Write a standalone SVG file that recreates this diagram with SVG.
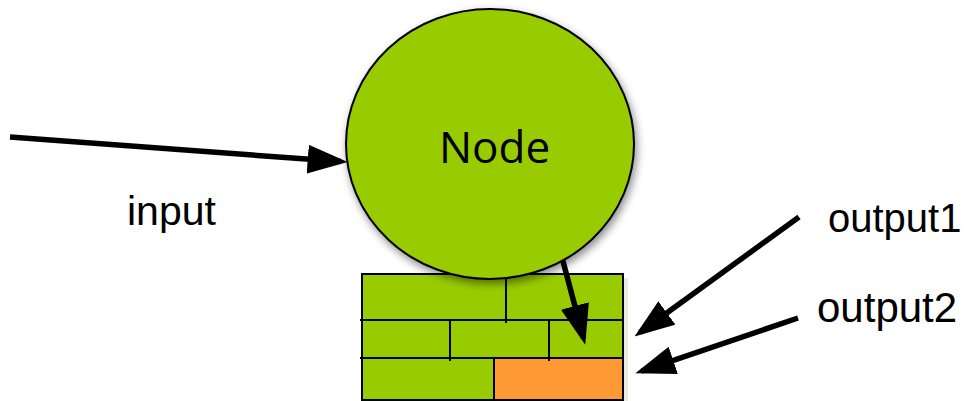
<svg xmlns="http://www.w3.org/2000/svg" width="967" height="401" viewBox="0 0 967 401">
  <style>
    .brick { fill: #99CC00; stroke: none; }
    .mortar { stroke: #000; stroke-width: 2; fill: none; }
    .arrow { stroke: #000; stroke-width: 5.5; fill: none; marker-end: url(#head); }
    .label { font-family: "Liberation Sans", Arial, sans-serif; fill: #000; }
  </style>
  <defs>
    <marker id="head" markerUnits="userSpaceOnUse" markerWidth="40" markerHeight="30"
            viewBox="0 0 36 26" refX="30" refY="13" orient="auto">
      <path d="M0,0 L36,13 L0,26 z" fill="#000"/>
    </marker>
    <filter id="soft" x="-20%" y="-20%" width="140%" height="140%">
      <feDropShadow dx="2" dy="4" stdDeviation="4" flood-color="#000" flood-opacity="0.45"/>
    </filter>
  </defs>

  <rect width="967" height="401" fill="#fff"/>

  <!-- brick wall -->
  <g id="wall">
    <rect x="365" y="278" width="263" height="123" fill="#ECEAE0"/>
    <rect class="brick" x="362" y="274" width="261" height="126"/>
    <rect id="slot" x="494" y="358" width="129" height="42" fill="#FF9933"/>
    <rect class="mortar" x="362" y="274" width="261" height="126"/>
    <line class="mortar" x1="360" y1="320" x2="623" y2="320"/>
    <line class="mortar" x1="360" y1="358" x2="623" y2="358"/>
    <line class="mortar" x1="506" y1="274" x2="506" y2="323"/>
    <line class="mortar" x1="450" y1="320" x2="450" y2="361"/>
    <line class="mortar" x1="549" y1="320" x2="549" y2="361"/>
    <line class="mortar" x1="494" y1="358" x2="494" y2="400"/>
  </g>

  <!-- connectors -->
  <g id="connectors">
    <line class="arrow" x1="10" y1="137" x2="341" y2="161.6"/>
    <line class="arrow" x1="560" y1="250" x2="583.5" y2="338.2"/>
    <line class="arrow" x1="799" y1="217" x2="639.9" y2="332.5"/>
    <line class="arrow" x1="798" y1="318" x2="641.7" y2="371.1"/>
  </g>

  <!-- node -->
  <g id="node">
    <ellipse cx="490" cy="144" rx="144" ry="135" fill="#99CC00" stroke="#000" stroke-width="2" filter="url(#soft)"/>
    <text x="494.5" y="163" text-anchor="middle" font-family="'Open Sans', 'Noto Sans', sans-serif" font-size="44" fill="#000">Node</text>
  </g>

  <!-- labels -->
  <g id="labels">
    <text class="label" x="127" y="225" font-size="41">input</text>
    <text class="label" x="828" y="232" font-size="40">output1</text>
    <text class="label" x="817" y="322" font-size="42">output2</text>
  </g>
</svg>
